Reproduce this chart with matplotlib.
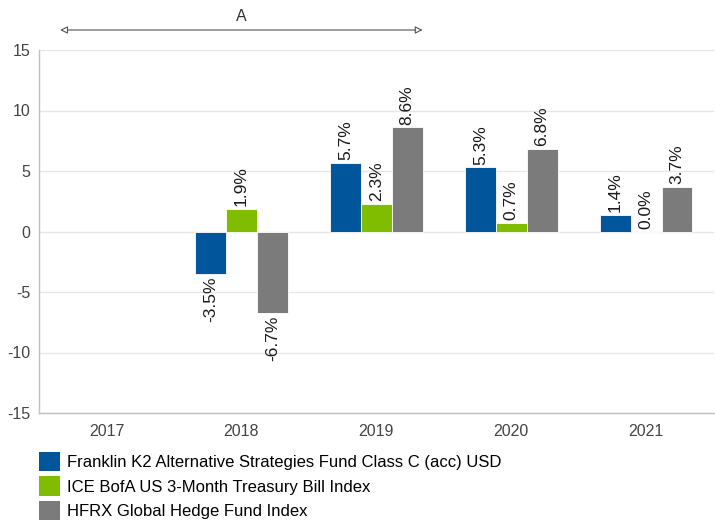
import matplotlib
matplotlib.use("Agg")
import matplotlib.pyplot as plt
import matplotlib.transforms as mtransforms
import numpy as np
from matplotlib.patches import Patch

plt.rcParams['font.family'] = ['Liberation Sans', 'DejaVu Sans']
plt.rcParams['axes.unicode_minus'] = False

years = ["2017", "2018", "2019", "2020", "2021"]
series_names = [
    "Franklin K2 Alternative Strategies Fund Class C (acc) USD",
    "ICE BofA US 3-Month Treasury Bill Index",
    "HFRX Global Hedge Fund Index",
]
fund = [np.nan, -3.5, 5.7, 5.3, 1.4]
tbill = [np.nan, 1.9, 2.3, 0.7, 0.0]
hfrx = [np.nan, -6.7, 8.6, 6.8, 3.7]
colors = ["#00559b", "#80bc00", "#7b7b7b"]
yticks = [-15, -10, -5, 0, 5, 10, 15]

fig = plt.figure(figsize=(7.15, 5.22), dpi=100)
ax = fig.add_axes([39/715, 1-413/522, 1-39/715-0.002, (413-50)/522])

x = np.arange(len(years))
w = 0.229
for i, (vals, c) in enumerate(zip([fund, tbill, hfrx], colors)):
    xs = x + (i - 1) * w
    ax.bar(xs, vals, width=w, color=c, edgecolor="white", linewidth=0.6, zorder=3)
    for xi, v in zip(xs, vals):
        if np.isnan(v):
            continue
        if v >= 0:
            ax.annotate(f"{v:.1f}%", (xi, v), xytext=(0, 2), textcoords="offset points",
                        rotation=90, ha="center", va="bottom", fontsize=12.5, color="#1a1a1a")
        else:
            ax.annotate(f"{v:.1f}%", (xi, v), xytext=(0, -2), textcoords="offset points",
                        rotation=90, ha="center", va="top", fontsize=12.5, color="#1a1a1a")

ax.set_xlim(-0.5, len(years) - 0.5)
ax.set_ylim(-15, 15)
ax.set_yticks(yticks)
ax.set_xticks(x)
ax.set_xticklabels(years)
ax.tick_params(axis="both", length=0, labelsize=11.5, colors="#444444")
ax.tick_params(axis="y", pad=6)
ax.tick_params(axis="x", pad=8)
ax.yaxis.grid(True, color="#e6e6e6", linewidth=1, zorder=0)
ax.set_axisbelow(True)
for s in ["top", "right"]:
    ax.spines[s].set_visible(False)
for s in ["left", "bottom"]:
    ax.spines[s].set_color("#c0c0c0")
    ax.spines[s].set_linewidth(1)

# arrow annotation spanning 2017-2019 groups
x0 = 0 - 1.5 * w
x1 = 2 + 1.5 * w
blend = mtransforms.blended_transform_factory(ax.transData, fig.transFigure)
yfig = 1 - 30/522
ax.annotate("", xy=(x0, yfig), xytext=(x1, yfig), xycoords=blend, textcoords=blend,
            arrowprops=dict(arrowstyle="<|-|>", ec="#555555", fc="white", lw=0.8,
                            mutation_scale=11, shrinkA=0, shrinkB=0),
            annotation_clip=False)
ax.text((x0 + x1) / 2, 1 - 24/522, "A", transform=blend,
        ha="center", va="bottom", fontsize=11.5, color="#333333")

handles = [Patch(facecolor=c, edgecolor="none") for c in colors]
fig.legend(handles, series_names, loc="upper left", bbox_to_anchor=(32/715, 1 - 445/522),
           frameon=False, prop={'size': 12},
           handlelength=1.3, handleheight=1.4,
           handletextpad=0.4, labelspacing=0.33, borderaxespad=0)

fig.savefig("out.png", dpi=100)
